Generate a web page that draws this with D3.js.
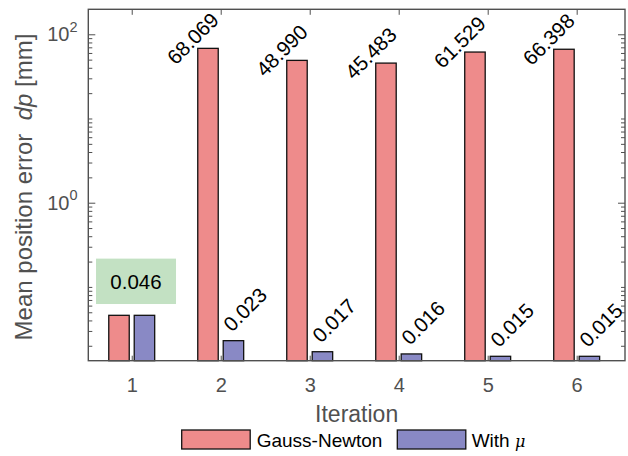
<!DOCTYPE html>
<html>
<head>
<meta charset="utf-8">
<script src="https://cdn.jsdelivr.net/npm/d3@7"></script>
<style>
  html, body { margin: 0; padding: 0; background: #fff; }
  svg { display: block; font-family: "Liberation Sans", Arial, Helvetica, sans-serif; }
</style>
</head>
<body>
<svg id="chart" width="628" height="456"></svg>
<script>
// Mean position error per iteration, two solver variants
const iterations = [1, 2, 3, 4, 5, 6];
const gaussNewton = [0.046, 68.069, 48.990, 45.483, 61.529, 66.398];
const withMu = [0.046, 0.023, 0.017, 0.016, 0.015, 0.015];
const seriesNames = ["Gauss-Newton", "With "];
const majorExponents = [0, 2];

const colors = { gn: "#ee8b8b", mu: "#8989c5", axis: "#505050", box: "#c3e1c3" };

const L = 88.3, R = 625, T = 9.3, B = 360.7;
const svg = d3.select("#chart");

const x = d3.scaleLinear().domain([0.512, 6.543]).range([L, R]);
const y = d3.scaleLog().domain([0.0133, 198]).range([B, T]);

const barW = 0.23, barOff = 0.143;
const fmt = d3.format(".3f");

// minor / major log ticks
const minorTicks = [];
for (let k = -2; k <= 2; k++) {
  for (let m = 1; m <= 9; m++) {
    const v = m * Math.pow(10, k);
    if (v >= y.domain()[0] && v <= y.domain()[1] && !(m === 1 && majorExponents.includes(k))) minorTicks.push(v);
  }
}
const majorTicks = majorExponents.map(e => Math.pow(10, e));

function styleAxis(g) {
  g.select(".domain").remove();
  g.selectAll(".tick line").attr("stroke", colors.axis).attr("stroke-width", 1);
  g.selectAll(".tick text").attr("fill", colors.axis);
}

// left ticks (inward)
svg.append("g").attr("transform", `translate(${L},0)`)
  .call(d3.axisRight(y).tickValues(minorTicks).tickSize(4).tickFormat(""))
  .call(styleAxis);
svg.append("g").attr("transform", `translate(${L},0)`)
  .call(d3.axisRight(y).tickValues(majorTicks).tickSize(7).tickFormat(""))
  .call(styleAxis);
// right ticks (inward)
svg.append("g").attr("transform", `translate(${R},0)`)
  .call(d3.axisLeft(y).tickValues(minorTicks).tickSize(4).tickFormat(""))
  .call(styleAxis);
svg.append("g").attr("transform", `translate(${R},0)`)
  .call(d3.axisLeft(y).tickValues(majorTicks).tickSize(7).tickFormat(""))
  .call(styleAxis);

// y tick labels as 10^n
const yl = svg.append("g").attr("fill", colors.axis);
majorExponents.forEach(e => {
  const t = yl.append("text")
    .attr("x", 77.5).attr("y", y(Math.pow(10, e)) + 7)
    .attr("text-anchor", "end").attr("font-size", 20);
  t.append("tspan").text("10");
  t.append("tspan").attr("font-size", 14.5).attr("dy", -9.5).text(String(e));
});

// top ticks
svg.append("g").attr("transform", `translate(0,${T})`)
  .call(d3.axisBottom(x).tickValues(iterations).tickSizeInner(5.5).tickSizeOuter(0).tickFormat(""))
  .call(styleAxis);

// bars
const gBars = svg.append("g");
gBars.selectAll("rect.gn").data(iterations).join("rect").attr("class", "gn")
  .attr("x", (d) => x(d - barOff - barW / 2))
  .attr("width", x(barW) - x(0))
  .attr("y", (d, i) => y(gaussNewton[i]))
  .attr("height", (d, i) => B - y(gaussNewton[i]))
  .attr("fill", colors.gn).attr("stroke", "#111").attr("stroke-width", 1.3);
gBars.selectAll("rect.mu").data(iterations).join("rect").attr("class", "mu")
  .attr("x", (d) => x(d + barOff - barW / 2))
  .attr("width", x(barW) - x(0))
  .attr("y", (d, i) => y(withMu[i]))
  .attr("height", (d, i) => B - y(withMu[i]))
  .attr("fill", colors.mu).attr("stroke", "#111").attr("stroke-width", 1.3);

// bottom axis with inward ticks and labels
svg.append("g").attr("transform", `translate(0,${B})`)
  .call(d3.axisBottom(x).tickValues(iterations).tickSizeInner(-5).tickSizeOuter(0).tickPadding(17).tickFormat(d3.format("d")))
  .call(styleAxis)
  .call(g => g.selectAll(".tick text").attr("font-size", 20).attr("font-family", null));

// axes frame
svg.append("rect").attr("x", L).attr("y", T).attr("width", R - L).attr("height", B - T)
  .attr("fill", "none").attr("stroke", colors.axis).attr("stroke-width", 1.4);

// value labels
const labels = svg.append("g").attr("font-size", 20.5).attr("fill", "#000");
iterations.forEach((it, i) => {
  if (i === 0) return;
  labels.append("text")
    .attr("transform", `translate(${x(it - barOff) + 12},${y(gaussNewton[i]) - 27}) rotate(-45)`)
    .attr("text-anchor", "end").text(fmt(gaussNewton[i]));
  labels.append("text")
    .attr("transform", `translate(${x(it + barOff) - 1.5},${y(withMu[i]) - 8}) rotate(-45)`)
    .attr("text-anchor", "start").text(fmt(withMu[i]));
});
// shared value of the first iteration in a highlighted box
{
  const cx = x(iterations[0]) + 4.3;
  const bottom = y(gaussNewton[0]) - 11.3;
  labels.append("rect").attr("x", cx - 40).attr("y", bottom - 45.4)
    .attr("width", 80).attr("height", 45.4).attr("fill", colors.box);
  labels.append("text").attr("x", cx).attr("y", bottom - 15.4)
    .attr("text-anchor", "middle").text(fmt(gaussNewton[0]));
}

// axis titles
svg.append("text").attr("x", (L + R) / 2).attr("y", 421.5)
  .attr("text-anchor", "middle").attr("font-size", 23).attr("fill", colors.axis)
  .text("Iteration");
const ylab = svg.append("text")
  .attr("transform", `translate(32,187) rotate(-90)`)
  .attr("text-anchor", "middle").attr("font-size", 24).attr("fill", colors.axis)
  .attr("xml:space", "preserve");
ylab.append("tspan").text("Mean position error  ");
ylab.append("tspan").attr("font-style", "italic").text("dp");
ylab.append("tspan").text(" [mm]");

// legend
const leg = svg.append("g").attr("font-size", 19).attr("fill", "#000");
const legItems = [
  { name: seriesNames[0], color: colors.gn, x: 181.7, tx: 256.7 },
  { name: seriesNames[1], color: colors.mu, x: 397.3, tx: 471.7 }
];
legItems.forEach((d, i) => {
  leg.append("rect").attr("x", d.x).attr("y", 430).attr("width", 68.5).attr("height", 19)
    .attr("fill", d.color).attr("stroke", "#111").attr("stroke-width", 1.3);
  const t = leg.append("text").attr("x", d.tx).attr("y", 447).text(d.name);
  if (i === 1) t.append("tspan").attr("font-style", "italic").attr("font-family", "DejaVu Serif").attr("font-size", 16).text("\u03bc");
});
</script>
</body>
</html>
